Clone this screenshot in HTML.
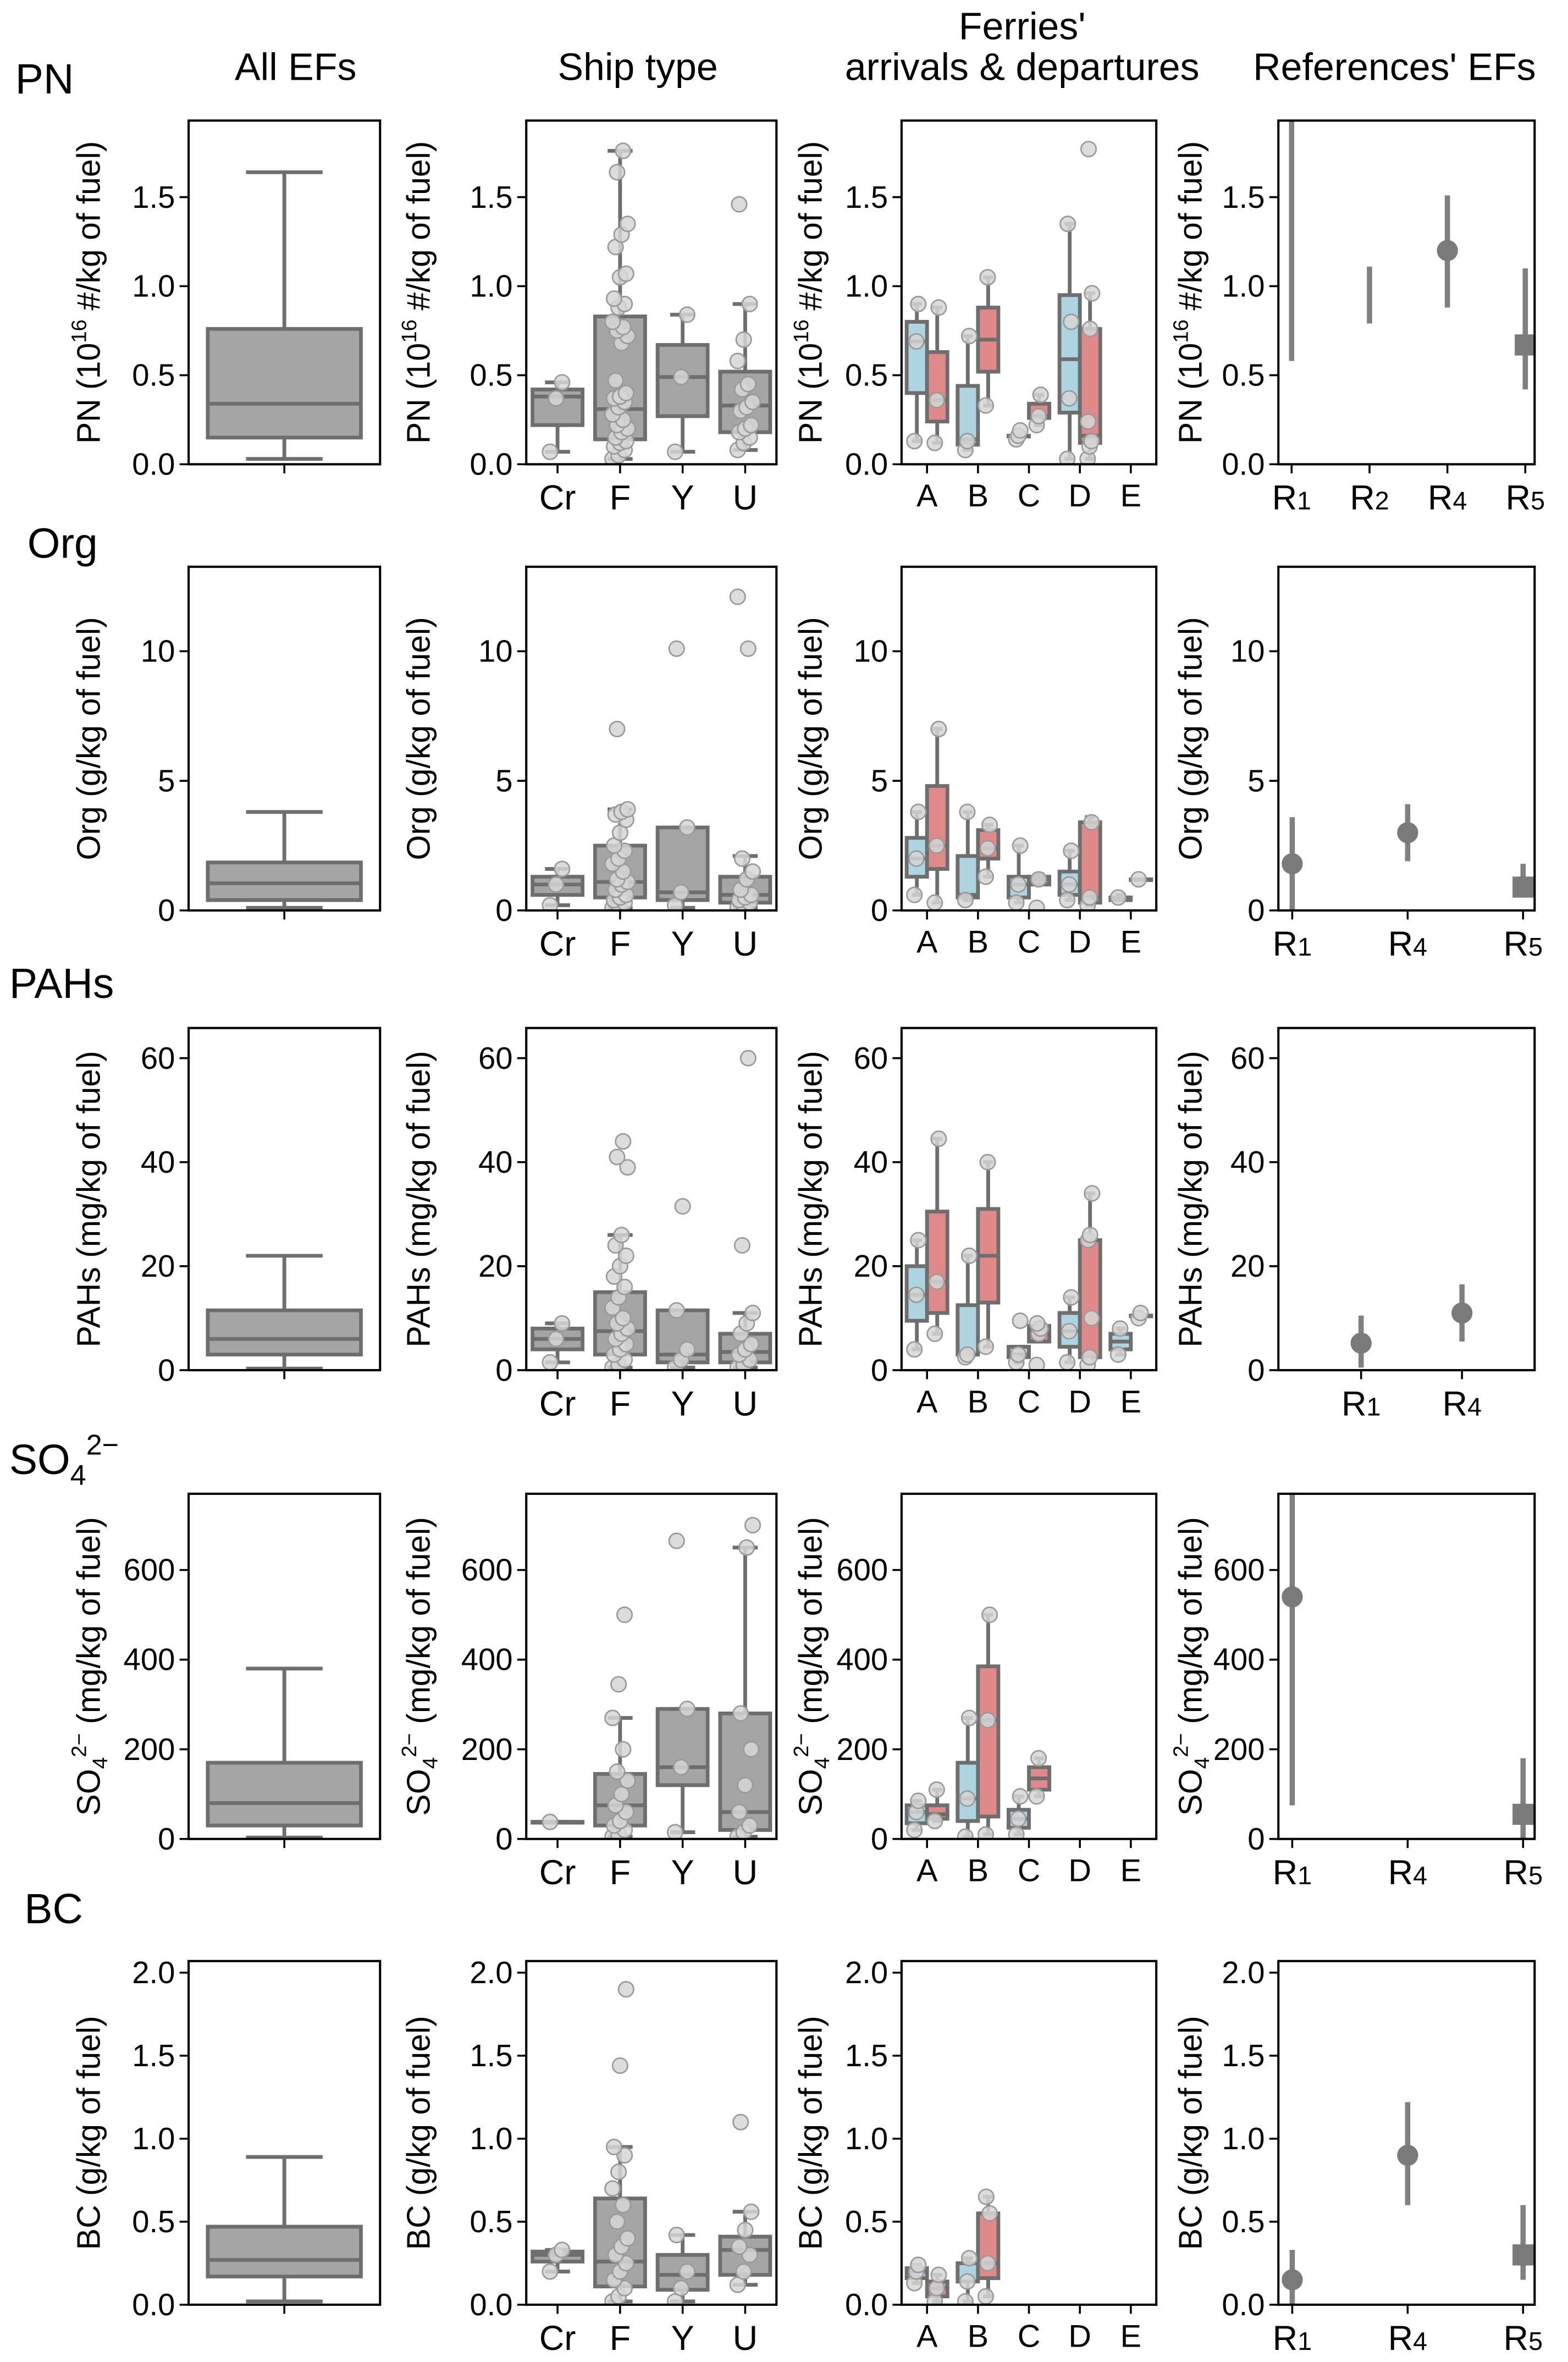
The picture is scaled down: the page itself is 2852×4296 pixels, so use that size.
<!DOCTYPE html>
<html><head><meta charset="utf-8"><style>
html,body{margin:0;padding:0;background:#fff}
svg{display:block}
text{font-family:"Liberation Sans",sans-serif;fill:#000}
</style></head><body>
<svg id="fig" width="2852" height="4296" viewBox="0 0 1040 1567" xmlns="http://www.w3.org/2000/svg">
<text x="196" y="53" font-size="25.5" text-anchor="middle">All EFs</text>
<text x="423" y="53" font-size="25.5" text-anchor="middle">Ship type</text>
<text x="678" y="26" font-size="25.5" text-anchor="middle">Ferries'</text>
<text x="678" y="53" font-size="25.5" text-anchor="middle">arrivals &amp; departures</text>
<text x="925" y="53" font-size="25.5" text-anchor="middle">References' EFs</text>
<text x="10" y="62" font-size="28">PN</text>
<text x="18" y="370" font-size="28">Org</text>
<text x="6" y="662" font-size="28">PAHs</text>
<text x="6" y="978" font-size="28">SO<tspan font-size="19" dy="7">4</tspan><tspan font-size="19" dy="-20">2−</tspan></text>
<text x="16" y="1276" font-size="28">BC</text>
</svg>
<script>
const shipCats=['Cr','F','Y','U'];
const ferryCats=['A','B','C','D','E'];
// stats: [low whisker, q1, median, q3, high whisker]
const pnAll=[0.03,0.15,0.34,0.76,1.64];
const orgAll=[0.1,0.4,1.05,1.85,3.8];
const pahAll=[0.3,3,6,11.5,22];
const so4All=[3,30,80,170,380];
const bcAll=[0.02,0.17,0.27,0.47,0.89];

const pnShip=[[0.07,0.22,0.38,0.42,0.46],[0.03,0.14,0.31,0.83,1.76],[0.07,0.27,0.49,0.67,0.84],[0.08,0.18,0.33,0.52,0.90]];
const orgShip=[[0.2,0.6,1.0,1.3,1.6],[0.1,0.5,1.1,2.5,3.9],[0.1,0.4,0.7,3.2,3.2],[0.1,0.3,0.6,1.3,2.1]];
const pahShip=[[1.5,4,6,8,9],[0.5,3,7.5,15,26],[0.5,1.5,3,11.5,11.5],[0.5,1.5,3.5,7,11]];
const so4Ship=[[38,38,38,38,38],[5,30,75,145,270],[15,120,160,290,290],[5,20,60,280,650]];
const bcShip=[[0.2,0.26,0.3,0.32,0.33],[0.02,0.11,0.26,0.64,0.95],[0.02,0.09,0.18,0.3,0.42],[0.12,0.18,0.33,0.41,0.56]];

const pnShipPts=[[0.07,0.37,0.46],[0.03,0.05,0.08,0.1,0.12,0.13,0.15,0.18,0.2,0.22,0.25,0.28,0.32,0.35,0.37,0.38,0.4,0.47,0.68,0.72,0.75,0.77,0.8,0.88,0.9,0.93,1.05,1.07,1.22,1.29,1.35,1.64,1.76],[0.07,0.49,0.84],[0.08,0.12,0.15,0.18,0.2,0.22,0.3,0.32,0.35,0.42,0.45,0.58,0.7,0.9,1.46]];
const orgShipPts=[[0.2,1.0,1.6],[0.1,0.2,0.3,0.4,0.5,0.6,0.8,1.0,1.1,1.2,1.5,1.8,2.0,2.3,2.5,3.0,3.5,3.7,3.8,3.9,7.0],[0.2,0.7,3.2,10.1],[0.1,0.2,0.3,0.4,0.5,0.6,0.8,1.2,1.5,2.0,10.1,12.1]];
const pahShipPts=[[1.5,6,9],[0.5,1,2,3,4,5,6,7,8,9,10,12,14,16,18,20,22,24,26,39,41,44],[0.5,2,4,11.5,31.5],[0.5,1,2,3,4,5,7,9,11,24,60]];
const so4ShipPts=[[38],[5,10,20,30,40,60,75,100,130,150,200,270,345,500],[15,160,290,665],[5,15,30,60,120,200,280,650,700]];
const bcShipPts=[[0.2,0.3,0.33],[0.02,0.05,0.1,0.15,0.2,0.25,0.3,0.35,0.4,0.5,0.6,0.7,0.8,0.9,0.95,1.44,1.9],[0.02,0.1,0.2,0.42],[0.12,0.2,0.3,0.35,0.45,0.56,1.1]];

const pnFerryBlue=[[0.13,0.40,0.69,0.80,0.90],[0.08,0.11,0.14,0.44,0.72],[0.16,0.16,0.16,0.16,0.16],[0.03,0.29,0.59,0.95,1.35],null];
const pnFerryRed=[[0.12,0.24,0.36,0.63,0.88],[0.33,0.52,0.70,0.88,1.05],[0.22,0.26,0.27,0.34,0.39],[0.03,0.12,0.16,0.76,0.96],null];
const pnFerryBluePts=[[0.13,0.69,0.90],[0.08,0.13,0.72],[0.14,0.16,0.19],[0.03,0.37,0.8,1.35],[]];
const pnFerryRedPts=[[0.12,0.36,0.88],[0.33,1.05],[0.22,0.27,0.39],[0.03,0.1,0.13,0.24,0.76,0.96,1.77],[]];
const orgFerryBlue=[[0.6,1.3,2.0,2.8,3.8],[0.4,0.5,0.6,2.1,3.8],[0.3,0.5,1.0,1.3,2.5],[0.4,0.6,1.0,1.5,2.3],[0.4,0.4,0.5,0.5,0.6]];
const orgFerryRed=[[0.3,1.6,2.5,4.8,7.0],[1.3,2.0,2.4,3.1,3.3],[1.0,1.0,1.2,1.3,1.4],[0.2,0.3,0.5,3.4,3.6],[1.2,1.2,1.2,1.2,1.2]];
const orgFerryBluePts=[[0.6,2.0,3.8],[0.4,3.8],[0.3,1.0,2.5],[0.4,1.0,2.3],[0.5]];
const orgFerryRedPts=[[0.3,2.5,7.0],[1.3,2.4,3.3],[0.1,1.2],[0.2,0.5,3.4],[1.2]];
const pahFerryBlue=[[4,9.5,14.5,20,25],[3,3,3,12.5,22],[1.5,2.5,3,4.5,4.5],[1.5,4.5,7.5,11,14],[3,4,5.5,7,8]];
const pahFerryRed=[[7,11,17,30.5,44.5],[4.5,13,22,31,40],[5.5,5.5,7.5,8.5,9],[2.5,2.5,2.5,25,34],[10.5,10.5,10.5,10.5,10.5]];
const pahFerryBluePts=[[4,14.5,25],[2.5,3,22],[1.5,3,9.5],[1.5,7.5,14],[3,8]];
const pahFerryRedPts=[[7,17,44.5],[4.5,40],[1,7,8,9],[1,2.5,10,25,26,34],[10,11]];
const so4FerryBlue=[[20,35,60,75,85],[5,40,90,170,270],[10,25,45,65,95],null,null];
const so4FerryRed=[[40,45,55,75,110],[10,50,265,385,500],[95,110,135,160,180],null,null];
const so4FerryBluePts=[[20,60,85],[5,90,270],[10,45,95],[],[]];
const so4FerryRedPts=[[40,110],[10,265,500],[95,180],[],[]];
const bcFerryBlue=[[0.13,0.16,0.2,0.22,0.24],[0.02,0.14,0.14,0.25,0.28],null,null,null];
const bcFerryRed=[[0.02,0.05,0.1,0.14,0.18],[0.05,0.16,0.25,0.55,0.65],null,null,null];
const bcFerryBluePts=[[0.13,0.2,0.24],[0.02,0.14,0.28],[],[],[]];
const bcFerryRedPts=[[0.02,0.1,0.18],[0.05,0.25,0.55,0.65],[],[],[]];

const pnRefCats=['1','2','4','5']; const pnRefMean=[2.3,null,1.2,0.67]; const pnRefLo=[0.58,0.79,0.88,0.42]; const pnRefHi=[4,1.11,1.51,1.1];
const orgRefCats=['1','4','5']; const orgRefMean=[1.8,3.0,0.9]; const orgRefLo=[0,1.9,0.5]; const orgRefHi=[3.6,4.1,1.8];
const pahRefCats=['1','4']; const pahRefMean=[5.2,11]; const pahRefLo=[0.5,5.5]; const pahRefHi=[10.5,16.5];
const so4RefCats=['1','4','5']; const so4RefMean=[540,null,55]; const so4RefLo=[75,null,0]; const so4RefHi=[900,null,180];
const bcRefCats=['1','4','5']; const bcRefMean=[0.15,0.9,0.3]; const bcRefLo=[0,0.6,0.15]; const bcRefHi=[0.33,1.22,0.6];

const NS='http://www.w3.org/2000/svg';
const svg=document.getElementById('fig');
function mk(tag,attrs,parent){const e=document.createElementNS(NS,tag);for(const k in attrs)e.setAttribute(k,attrs[k]);(parent||svg).appendChild(e);return e;}
const EDGE='#6e6e6e';
const rowsCfg=[
 {yb:308,yt:80,max:1.93,ticks:[0,0.5,1.0,1.5],fmt:v=>v.toFixed(1),name:'pn'},
 {yb:604,yt:376,max:13.26,ticks:[0,5,10],fmt:v=>String(v),name:'org'},
 {yb:909,yt:682,max:65.8,ticks:[0,20,40,60],fmt:v=>String(v),name:'pahs'},
 {yb:1220,yt:991,max:770,ticks:[0,200,400,600],fmt:v=>String(v),name:'so4'},
 {yb:1529,yt:1301,max:2.07,ticks:[0,0.5,1.0,1.5,2.0],fmt:v=>v.toFixed(1),name:'bc'}];
const cols=[{x0:125,x1:252,lx:66},{x0:349,x1:515,lx:285},{x0:598,x1:767,lx:545},{x0:848,x1:1018,lx:797}];
function ylabel(g,x,yc,r){
  const t=mk('text',{x:x,y:yc,'font-size':21.5,'text-anchor':'middle',transform:`rotate(-90 ${x} ${yc})`},g);
  
  
  if(r===0){t.innerHTML='PN (10<tspan font-size="14" dy="-9">16</tspan><tspan dy="9"> #/kg of fuel)</tspan>';}
  else if(r===1)t.textContent='Org (g/kg of fuel)';
  else if(r===2)t.textContent='PAHs (mg/kg of fuel)';
  else if(r===3)t.innerHTML='SO<tspan font-size="14" dy="5">4</tspan><tspan font-size="14" dy="-14">2−</tspan><tspan dy="9">  (mg/kg of fuel)</tspan>';
  else t.textContent='BC (g/kg of fuel)';
}
function drawBox(g,cx,w,st,y,fill){
  if(!st)return;
  const [lo,q1,md,q3,hi]=st;
  mk('line',{x1:cx,x2:cx,y1:y(lo),y2:y(q1),stroke:EDGE,'stroke-width':2.5},g);
  mk('line',{x1:cx,x2:cx,y1:y(q3),y2:y(hi),stroke:EDGE,'stroke-width':2.5},g);
  mk('line',{x1:cx-w/4,x2:cx+w/4,y1:y(lo),y2:y(lo),stroke:EDGE,'stroke-width':2.5},g);
  mk('line',{x1:cx-w/4,x2:cx+w/4,y1:y(hi),y2:y(hi),stroke:EDGE,'stroke-width':2.5},g);
  const r=mk('rect',{x:cx-w/2,y:y(q3),width:w,height:Math.max(y(q1)-y(q3),0.5),fill:fill,stroke:EDGE,'stroke-width':2.5},g);
  
  
  mk('line',{x1:cx-w/2,x2:cx+w/2,y1:y(md),y2:y(md),stroke:EDGE,'stroke-width':2.5},g);
}
function drawPts(g,cx,jw,pts,y){
  pts.forEach((v,i)=>{const off=(((i*37)%11)-5)/5*jw;
    const c=mk('circle',{cx:cx+off,cy:y(v),r:5,fill:'#d6d6d6','fill-opacity':0.85,stroke:'#9a9a9a','stroke-width':1},g);
    
    });
}
const allStats=[pnAll,orgAll,pahAll,so4All,bcAll];
const shipStats=[pnShip,orgShip,pahShip,so4Ship,bcShip];
const shipPts=[pnShipPts,orgShipPts,pahShipPts,so4ShipPts,bcShipPts];
const fB=[pnFerryBlue,orgFerryBlue,pahFerryBlue,so4FerryBlue,bcFerryBlue];
const fR=[pnFerryRed,orgFerryRed,pahFerryRed,so4FerryRed,bcFerryRed];
const fBP=[pnFerryBluePts,orgFerryBluePts,pahFerryBluePts,so4FerryBluePts,bcFerryBluePts];
const fRP=[pnFerryRedPts,orgFerryRedPts,pahFerryRedPts,so4FerryRedPts,bcFerryRedPts];
const refC=[pnRefCats,orgRefCats,pahRefCats,so4RefCats,bcRefCats];
const refM=[pnRefMean,orgRefMean,pahRefMean,so4RefMean,bcRefMean];
const refL=[pnRefLo,orgRefLo,pahRefLo,so4RefLo,bcRefLo];
const refH=[pnRefHi,orgRefHi,pahRefHi,so4RefHi,bcRefHi];
const refDom=[[-0.17,3.12],[-0.12,2.1],[-0.82,1.72],[-0.12,2.1],[-0.12,2.1]];
const refSq=[[0,0,0,1],[0,0,1],[0,0],[0,0,1],[0,0,1]];

rowsCfg.forEach((R,r)=>{
  const y=v=>R.yb-(v/R.max)*(R.yb-R.yt);
  cols.forEach((C,c)=>{
    const g=mk('g',{});
    
    
    const cid='clip'+r+'_'+c;
    const cp=mk('clipPath',{id:cid},g);mk('rect',{x:C.x0,y:R.yt,width:C.x1-C.x0,height:R.yb-R.yt},cp);
    const inner=mk('g',{'clip-path':`url(#${cid})`},g);
    R.ticks.forEach(t=>{
      mk('line',{x1:C.x0-6,x2:C.x0,y1:y(t),y2:y(t),stroke:'#000','stroke-width':1.3},g);
      const tl=mk('text',{x:C.x0-9,y:y(t)+7,'font-size':20.5,'text-anchor':'end'},g);
      
      
      tl.textContent=R.fmt(t);
    });
    ylabel(g,C.lx,(R.yb+R.yt)/2,r);
    const W=C.x1-C.x0;
    if(c===0){
      const cx=(C.x0+C.x1)/2;
      drawBox(inner,cx,W*0.8,allStats[r],y,'#a5a5a5');
      mk('line',{x1:cx,x2:cx,y1:R.yb,y2:R.yb+6,stroke:'#000','stroke-width':1.3},g);
    } else if(c===1){
      const bw=W/4;
      shipCats.forEach((k,i)=>{const cx=C.x0+bw*(i+0.5);
        drawBox(inner,cx,bw*0.8,shipStats[r][i],y,'#a5a5a5');
        drawPts(inner,cx,bw*0.12,shipPts[r][i],y);
        mk('line',{x1:cx,x2:cx,y1:R.yb,y2:R.yb+6,stroke:'#000','stroke-width':1.3},g);
        const tl=mk('text',{x:cx,y:R.yb+30,'font-size':23,'text-anchor':'middle'},g);
        
        
        tl.textContent=k;});
    } else if(c===2){
      const bw=W/5;
      ferryCats.forEach((k,i)=>{const cx=C.x0+bw*(i+0.5);const hw=bw*0.4;
        drawBox(inner,cx-hw/2,hw,fB[r][i],y,'#add4e0');
        drawBox(inner,cx+hw/2,hw,fR[r][i],y,'#e0898b');
        drawPts(inner,cx-hw/2,hw*0.12,fBP[r][i],y);
        drawPts(inner,cx+hw/2,hw*0.12,fRP[r][i],y);
        mk('line',{x1:cx,x2:cx,y1:R.yb,y2:R.yb+6,stroke:'#000','stroke-width':1.3},g);
        const tl=mk('text',{x:cx,y:R.yb+28,'font-size':21,'text-anchor':'middle'},g);
        
        
        tl.textContent=k;});
    } else {
      const [d0,d1]=refDom[r];const x=i=>C.x0+(i-d0)/(d1-d0)*W;
      refC[r].forEach((k,i)=>{const cx=x(i);
        if(refL[r][i]!==null){const el=mk('line',{x1:cx,x2:cx,y1:y(refL[r][i]),y2:y(refH[r][i]),stroke:'#808080','stroke-width':3.5},inner);
          
          }
        const m=refM[r][i];
        if(m!==null){let mkr;
          if(refSq[r][i])mkr=mk('rect',{x:cx-7,y:y(m)-7,width:14,height:14,fill:'#7a7a7a'},inner);
          else mkr=mk('circle',{cx:cx,cy:y(m),r:7,fill:'#7a7a7a'},inner);
          
          }
        mk('line',{x1:cx,x2:cx,y1:R.yb,y2:R.yb+6,stroke:'#000','stroke-width':1.3},g);
        const tl=mk('text',{x:cx,y:R.yb+30,'font-size':23,'text-anchor':'middle'},g);
        
        
        tl.innerHTML='R<tspan font-size="17">'+k+'</tspan>';});
    }
    const fr=mk('rect',{x:C.x0,y:R.yt,width:W,height:R.yb-R.yt,fill:'none',stroke:'#000','stroke-width':1.5},g);
    
    
  });
});
</script>
</body></html>
